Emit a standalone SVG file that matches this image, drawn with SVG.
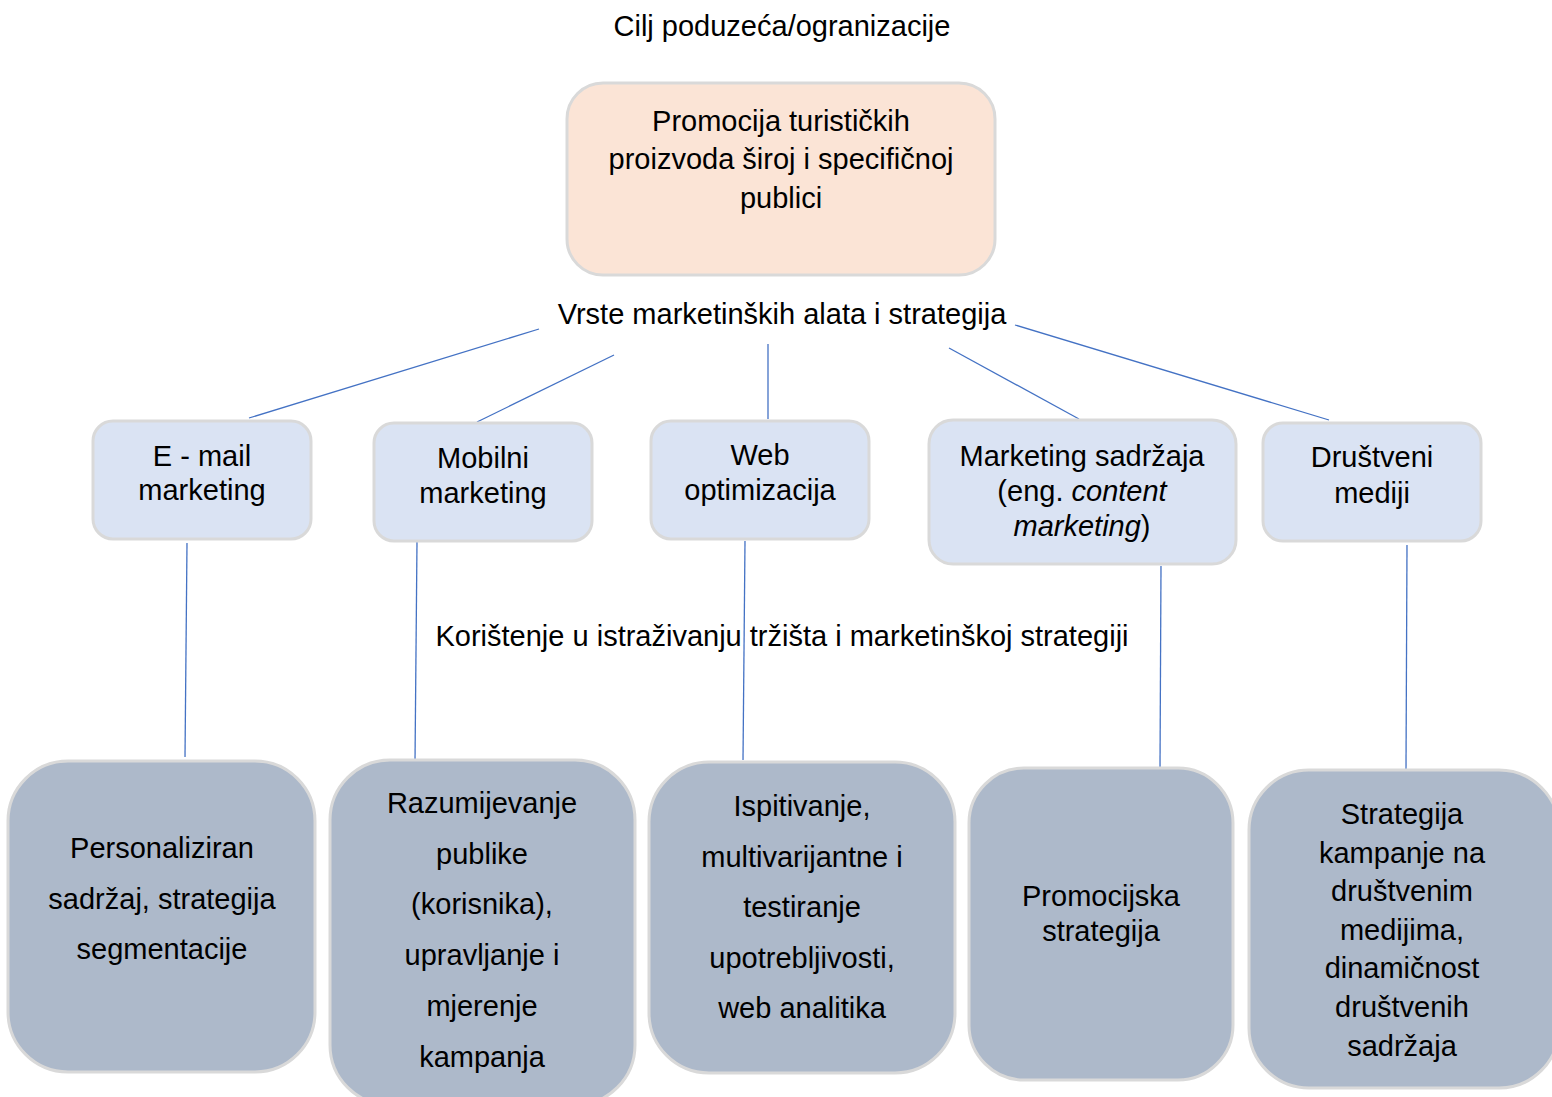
<svg xmlns="http://www.w3.org/2000/svg" width="1552" height="1097" viewBox="0 0 1552 1097">
<style>
text{font-family:"Liberation Sans",Arial,sans-serif;font-size:29px;fill:#000;text-anchor:middle}
.top{fill:#FBE4D6;stroke:#D9D9D9;stroke-width:3}
.mid{fill:#DAE3F3;stroke:#D9D9D9;stroke-width:3}
.bot{fill:#ADB9CA;stroke:#D9D9D9;stroke-width:3}
.c{stroke:#4472C4;stroke-width:1.3;fill:none}
</style>
<rect width="1552" height="1097" fill="#fff"/>
<text x="782" y="36">Cilj poduzeća/ogranizacije</text>
<g id="goal">
<rect class="top" x="567" y="83" width="428" height="192" rx="36"/>
<text x="781" y="131">Promocija turističkih</text>
<text x="781" y="169">proizvoda široj i specifičnoj</text>
<text x="781" y="208">publici</text>
</g>
<text x="782" y="324">Vrste marketinških alata i strategija</text>
<text x="782" y="646">Korištenje u istraživanju tržišta i marketinškoj strategiji</text>
<g id="connectors">
<line class="c" x1="539" y1="329" x2="249" y2="418"/>
<line class="c" x1="614" y1="355" x2="477" y2="422"/>
<line class="c" x1="768" y1="344" x2="768" y2="419"/>
<line class="c" x1="949" y1="348" x2="1079" y2="419"/>
<line class="c" x1="1015" y1="325" x2="1329" y2="420"/>
<line class="c" x1="187" y1="543" x2="185" y2="757"/>
<line class="c" x1="417" y1="541" x2="415" y2="762"/>
<line class="c" x1="745" y1="541" x2="743" y2="760"/>
<line class="c" x1="1161" y1="566" x2="1160" y2="768"/>
<line class="c" x1="1407" y1="545" x2="1406" y2="770"/>
</g>
<g id="email">
<rect class="mid" x="93" y="421" width="218" height="118" rx="20"/>
<text x="202" y="466">E - mail</text>
<text x="202" y="500">marketing</text>
</g>
<g id="mobilni">
<rect class="mid" x="374" y="423" width="218" height="118" rx="20"/>
<text x="483" y="468">Mobilni</text>
<text x="483" y="503">marketing</text>
</g>
<g id="web">
<rect class="mid" x="651" y="421" width="218" height="118" rx="20"/>
<text x="760" y="465">Web</text>
<text x="760" y="500">optimizacija</text>
</g>
<g id="content">
<rect class="mid" x="929" y="420" width="307" height="144" rx="24"/>
<text x="1082" y="466">Marketing sadržaja</text>
<text x="1082" y="501">(eng. <tspan font-style="italic">content</tspan></text>
<text x="1082" y="536"><tspan font-style="italic">marketing</tspan>)</text>
</g>
<g id="drustveni">
<rect class="mid" x="1263" y="423" width="218" height="118" rx="20"/>
<text x="1372" y="467">Društveni</text>
<text x="1372" y="503">mediji</text>
</g>
<g id="b1">
<rect class="bot" x="8" y="761" width="307" height="311" rx="60"/>
<text x="162" y="858">Personaliziran</text>
<text x="162" y="909">sadržaj, strategija</text>
<text x="162" y="959">segmentacije</text>
</g>
<g id="b2">
<rect class="bot" x="330" y="760" width="305" height="345" rx="60"/>
<text x="482" y="813">Razumijevanje</text>
<text x="482" y="864">publike</text>
<text x="482" y="914">(korisnika),</text>
<text x="482" y="965">upravljanje i</text>
<text x="482" y="1016">mjerenje</text>
<text x="482" y="1067">kampanja</text>
</g>
<g id="b3">
<rect class="bot" x="649" y="762" width="306" height="311" rx="60"/>
<text x="802" y="816">Ispitivanje,</text>
<text x="802" y="867">multivarijantne i</text>
<text x="802" y="917">testiranje</text>
<text x="802" y="968">upotrebljivosti,</text>
<text x="802" y="1018">web analitika</text>
</g>
<g id="b4">
<rect class="bot" x="969" y="768" width="264" height="312" rx="55"/>
<text x="1101" y="906">Promocijska</text>
<text x="1101" y="941">strategija</text>
</g>
<g id="b5">
<rect class="bot" x="1249" y="770" width="310" height="318" rx="60"/>
<text x="1402" y="824">Strategija</text>
<text x="1402" y="863">kampanje na</text>
<text x="1402" y="901">društvenim</text>
<text x="1402" y="940">medijima,</text>
<text x="1402" y="978">dinamičnost</text>
<text x="1402" y="1017">društvenih</text>
<text x="1402" y="1056">sadržaja</text>
</g>
</svg>
